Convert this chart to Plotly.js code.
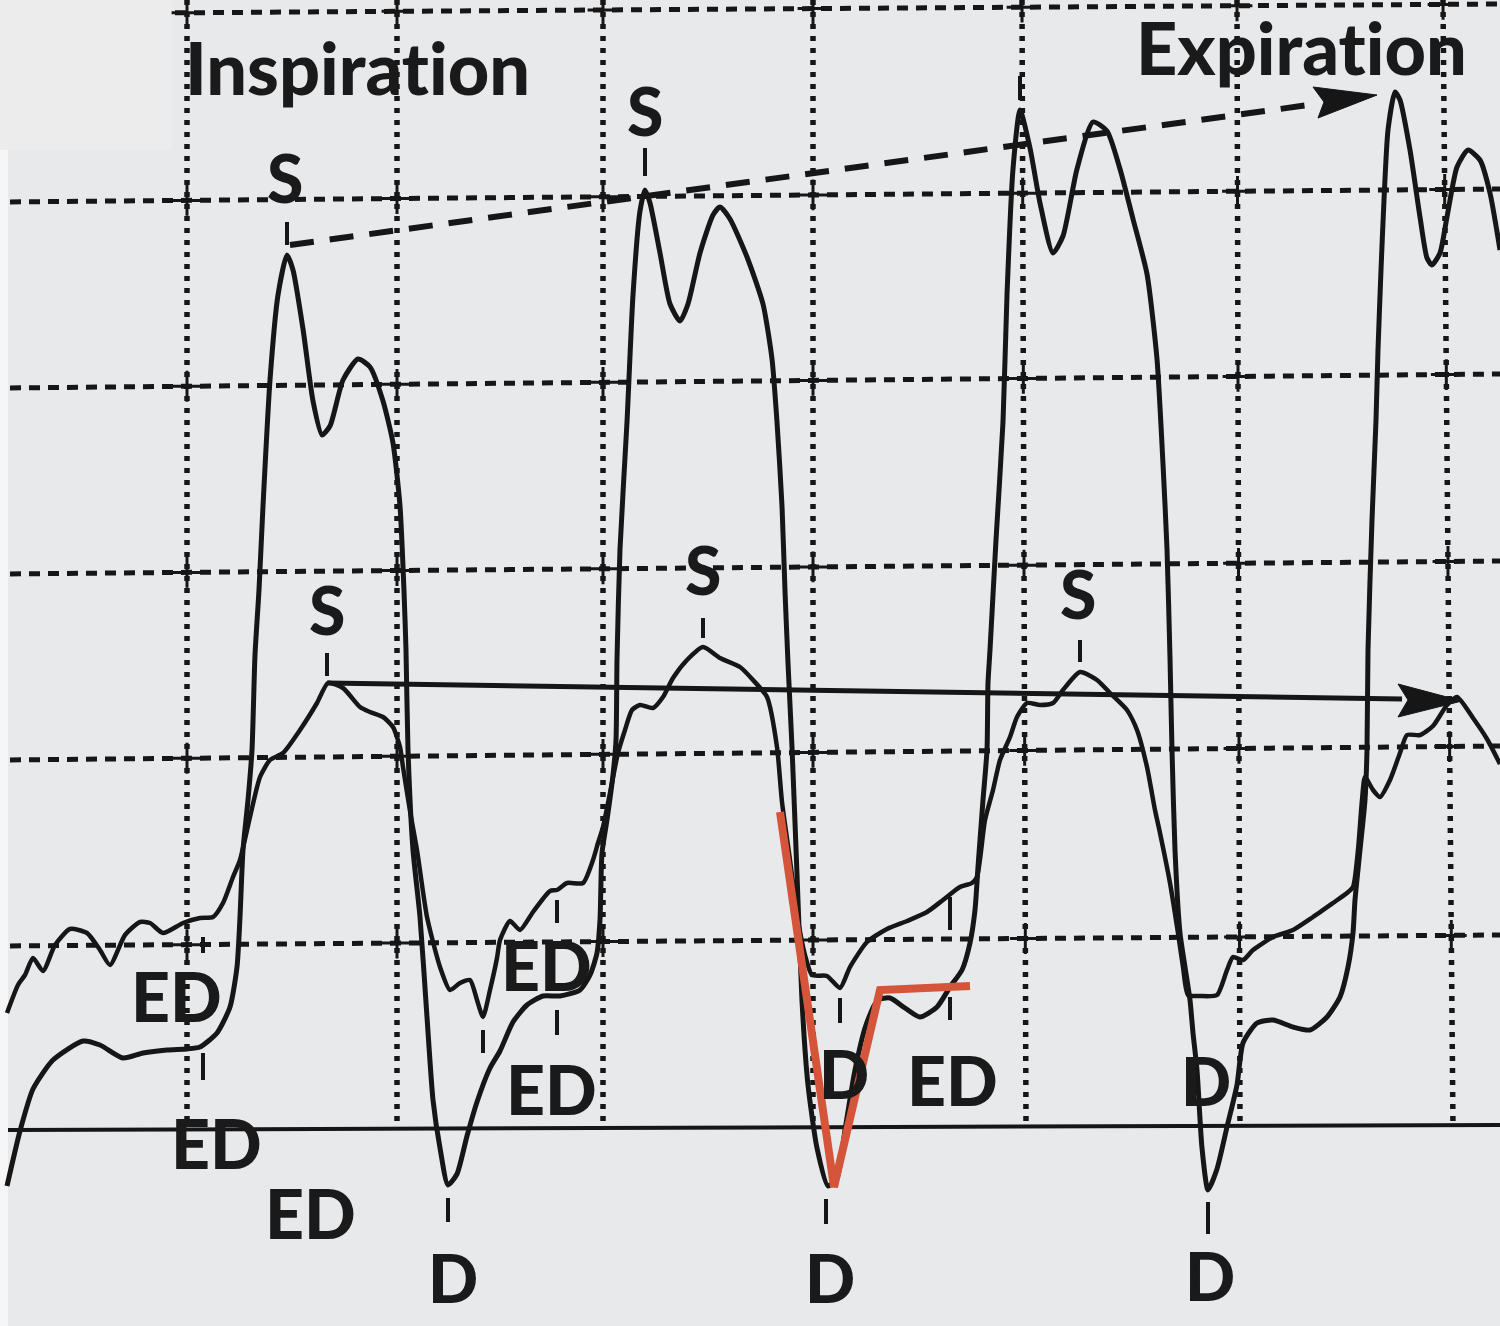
<!DOCTYPE html>
<html>
<head>
<meta charset="utf-8">
<script src="https://cdn.plot.ly/plotly-3.0.1.min.js"></script>
<style>
html,body{margin:0;padding:0;background:#e8e9eb;}
#chart{width:1500px;height:1326px;}
svg text{font-variant-ligatures:none;font-feature-settings:"liga" 0,"clig" 0;}
</style>
</head>
<body>
<div id="chart"></div>
<script>
// ---- Large-amplitude pressure tracing (x, y in picture units) ----
const bigCurve = [
 [7,1186],[20,1131],[33,1089],[53,1060],[83,1041],[100,1045],[123,1058],[143,1053],[167,1050],[187,1049],[200,1047],[217,1033],[230,1007],[237,967],[240,917],[243,850],[248,800],[252,750],[255,655],[259,590],[263,506],[270,380],[278,295],[287,255],[293,270],[303,329],[313,401],[322,435],[330,426],[343,380],[358,359],[370,367],[383,401],[393,443],[400,506],[404,591],[406,650],[408,750],[413,850],[420,917],[427,1017],[433,1100],[440,1148],[448,1185],[457,1174],[467,1136],[477,1102],[490,1068],[500,1051],[513,1022],[527,1005],[543,996],[560,996],[580,990],[590,975],[597,953],[600,920],[602,853],[607,820],[613,775],[616,740],[617,660],[620,549],[627,422],[633,295],[640,211],[645,190],[650,203],[660,253],[670,304],[680,321],[688,304],[700,253],[713,215],[720,207],[730,219],[747,257],[763,304],[772,359],[777,422],[782,506],[785,591],[788,663],[792,747],[797,874],[802,1001],[808,1085],[817,1148],[828,1186],[837,1178],[845,1130],[855,1070],[866,1025],[878,1000],[890,998],[905,1008],[920,1017],[937,1007],[950,987],[962,970],[970,943],[975,910],[978,867],[983,800],[987,750],[988,683],[990,650],[996,540],[1003,422],[1007,295],[1013,169],[1020,110],[1030,148],[1040,203],[1053,253],[1063,236],[1077,169],[1093,122],[1107,131],[1120,169],[1133,219],[1147,274],[1157,359],[1163,464],[1167,549],[1170,658],[1172,750],[1175,850],[1180,933],[1185,967],[1190,1000],[1193,1033],[1197,1070],[1202,1148],[1208,1190],[1217,1169],[1227,1127],[1237,1085],[1243,1043],[1257,1023],[1273,1020],[1293,1027],[1310,1030],[1327,1017],[1340,997],[1348,967],[1353,933],[1355,900],[1360,850],[1365,800],[1367,750],[1368,650],[1372,520],[1376,420],[1378,350],[1381,270],[1384,200],[1388,130],[1395,92],[1400,100],[1410,150],[1420,217],[1427,258],[1432,265],[1440,253],[1447,217],[1457,167],[1468,150],[1480,160],[1490,193],[1500,250]
];
// ---- Smaller-amplitude pressure tracing ----
const smallCurve = [
 [7,1013],[18,985],[25,975],[33,958],[43,971],[55,945],[70,929],[87,933],[100,950],[110,965],[125,935],[140,922],[150,923],[163,933],[183,923],[200,918],[213,917],[223,903],[233,877],[240,860],[250,817],[260,777],[270,760],[283,753],[300,730],[317,703],[328,683],[343,688],[360,707],[370,712],[383,717],[393,727],[400,747],[403,767],[410,811],[417,850],[427,917],[440,967],[450,990],[460,983],[470,980],[477,1000],[483,1017],[490,990],[497,958],[500,940],[510,921],[520,930],[533,912],[550,891],[557,890],[567,883],[583,883],[593,860],[598,843],[603,827],[610,793],[618,753],[625,730],[632,710],[640,705],[653,708],[663,697],[673,678],[687,660],[703,647],[720,658],[740,667],[753,680],[767,697],[777,747],[782,802],[790,860],[798,920],[805,955],[812,975],[827,976],[840,988],[850,967],[867,942],[887,929],[907,921],[927,912],[943,900],[960,887],[972,883],[977,877],[985,820],[993,790],[1000,760],[1010,737],[1017,717],[1027,703],[1040,705],[1053,703],[1063,690],[1080,672],[1097,680],[1110,693],[1127,710],[1137,730],[1147,767],[1155,810],[1160,833],[1170,883],[1178,933],[1183,967],[1188,995],[1200,996],[1217,995],[1227,970],[1233,957],[1243,960],[1253,950],[1273,937],[1293,930],[1313,917],[1333,903],[1347,893],[1353,887],[1358,850],[1362,800],[1365,777],[1373,790],[1380,797],[1390,780],[1400,753],[1407,735],[1420,735],[1433,726],[1447,705],[1457,697],[1473,718],[1487,739],[1500,764]
];
// ---- Red overlay ----
const redX = [780, 834, 880, 970];
const redY = [812, 1187, 990, 986];

// ---- Grid ----
const gridXTop    = [187, 397, 603, 813, 1022, 1237, 1443];
const gridXBottom = [187, 397, 603, 813, 1026, 1240, 1453];
const gridYLeft   = [14, 202, 388, 574, 760, 946];
const gridYRight  = [4, 189, 374, 561, 746, 935];
const gridTopStart = 175;
const baseLineY = [1130, 1125];

// ---- Labels ----
const labelText = ["Inspiration","Expiration","S","S","S","S","S","ED","ED","ED","ED","ED","ED","D","D","D","D","D"];
const labelX    = [183, 1134, 285, 327, 645, 703, 1078, 176, 216, 310, 546, 551, 952, 453, 830, 1210, 844, 1206];
const labelY    = [67, 47, 177, 609, 110, 569, 593, 995, 1142, 1212, 964, 1088, 1079, 1277, 1277, 1275, 1073, 1080];
const labelSize = [72, 72, 66, 66, 66, 66, 66, 68, 68, 68, 68, 68, 68, 66, 66, 66, 66, 66];

// ---- Small marker ticks ----
const tickX  = [287, 327, 645, 703, 1080, 1020, 203, 203, 483, 557, 557, 840, 950, 950, 448, 826, 1208];
const tickY0 = [222, 653, 148, 618, 640, 76, 937, 1053, 1030, 900, 1010, 998, 897, 997, 1198, 1199, 1202];
const tickY1 = [245, 676, 176, 638, 662, 100, 953, 1080, 1053, 923, 1035, 1023, 930, 1020, 1222, 1224, 1234];

// ---- Arrows ----
const solidArrowX = [327, 1402];
const solidArrowY = [683, 699];
const solidHeadX = [1398, 1462, 1398, 1408];
const solidHeadY = [684, 701, 717, 700];
const dashArrowX = [290, 1316];
const dashArrowY = [245, 104];
const dashHeadX = [1313, 1377, 1318, 1324];
const dashHeadY = [87, 95, 118, 102];

// ---------------- build ----------------
const ink = '#161616';
const shapes = [];
// background pieces
shapes.push({type:'rect', xref:'x', yref:'y', x0:0, x1:172, y0:0, y1:150, fillcolor:'#ececec', line:{width:0}, layer:'below'});
shapes.push({type:'rect', xref:'x', yref:'y', x0:0, x1:8, y0:150, y1:1326, fillcolor:'#f6f6f6', line:{width:0}, layer:'below'});

// horizontal dotted grid
gridYLeft.forEach((yl, j) => {
  const yr = gridYRight[j];
  const xs = j === 0 ? gridTopStart : 10;
  const y0 = yl + (yr - yl) * xs / 1500;
  shapes.push({type:'line', xref:'x', yref:'y', x0:xs, x1:1500, y0:y0, y1:yr,
    line:{color:ink, width:5, dash:'11px,8px'}, layer:'below'});
});
// vertical dotted grid
const vBottom = 1128;
gridXTop.forEach((xt, i) => {
  shapes.push({type:'line', xref:'x', yref:'y', x0:xt, x1:gridXBottom[i], y0:0, y1:vBottom,
    line:{color:ink, width:5.5, dash:'5px,7px'}, layer:'below'});
});
// solid base line
shapes.push({type:'line', xref:'x', yref:'y', x0:8, x1:1500, y0:baseLineY[0], y1:baseLineY[1],
  line:{color:ink, width:4}, layer:'below'});

// ticks
tickX.forEach((tx, i) => {
  shapes.push({type:'line', xref:'x', yref:'y', x0:tx, x1:tx, y0:tickY0[i], y1:tickY1[i],
    line:{color:ink, width:4}, layer:'above'});
});
// arrows
shapes.push({type:'line', xref:'x', yref:'y', x0:solidArrowX[0], x1:solidArrowX[1], y0:solidArrowY[0], y1:solidArrowY[1],
  line:{color:ink, width:5}, layer:'above'});
const pathOf = (xs, ys) => 'M' + xs.map((x, k) => x + ',' + ys[k]).join(' L') + ' Z';
shapes.push({type:'path', xref:'x', yref:'y', path:pathOf(solidHeadX, solidHeadY), fillcolor:ink, line:{color:ink, width:1}, layer:'above'});
shapes.push({type:'line', xref:'x', yref:'y', x0:dashArrowX[0], x1:dashArrowX[1], y0:dashArrowY[0], y1:dashArrowY[1],
  line:{color:ink, width:6, dash:'24px,16px'}, layer:'above'});
shapes.push({type:'path', xref:'x', yref:'y', path:pathOf(dashHeadX, dashHeadY), fillcolor:ink, line:{color:ink, width:1}, layer:'above'});

// grid crosses at intersections
const crossX = [], crossY = [];
gridYLeft.forEach((yl, j) => {
  gridXTop.forEach((xt, i) => {
    const yy = yl + (gridYRight[j] - yl) * xt / 1500;
    const xx = xt + (gridXBottom[i] - xt) * yy / vBottom;
    crossX.push(xx); crossY.push(yy);
  });
});

const traces = [
  {x:crossX, y:crossY, mode:'markers', type:'scatter', hoverinfo:'skip',
   marker:{symbol:'cross-thin', size:22, line:{color:ink, width:3}, color:ink}},
  {x:bigCurve.map(p => p[0]), y:bigCurve.map(p => p[1]), mode:'lines', type:'scatter',
   line:{color:ink, width:5, shape:'spline', smoothing:0.6}, hoverinfo:'skip'},
  {x:smallCurve.map(p => p[0]), y:smallCurve.map(p => p[1]), mode:'lines', type:'scatter',
   line:{color:ink, width:4.5, shape:'spline', smoothing:0.6}, hoverinfo:'skip'},
  {x:redX, y:redY, mode:'lines', type:'scatter',
   line:{color:'#d4553a', width:8}, hoverinfo:'skip'}
];

const annotations = labelText.map((t, i) => ({
  text: t, x: labelX[i], y: labelY[i], xref:'x', yref:'y',
  xanchor: i < 2 ? 'left' : 'center', yanchor:'middle', showarrow:false,
  font:{family:'Lato, "Open Sans", sans-serif', size:labelSize[i], color:'#1a1a1a', weight:900}
}));

const layout = {
  width:1500, height:1326,
  margin:{l:0, r:0, t:0, b:0, pad:0},
  paper_bgcolor:'#e8e9eb', plot_bgcolor:'#e8e9eb',
  showlegend:false,
  xaxis:{range:[0,1500], visible:false, fixedrange:true},
  yaxis:{range:[1326,0], visible:false, fixedrange:true},
  shapes:shapes,
  annotations:annotations
};

Plotly.newPlot('chart', traces, layout, {staticPlot:true, displayModeBar:false});
</script>
</body>
</html>
